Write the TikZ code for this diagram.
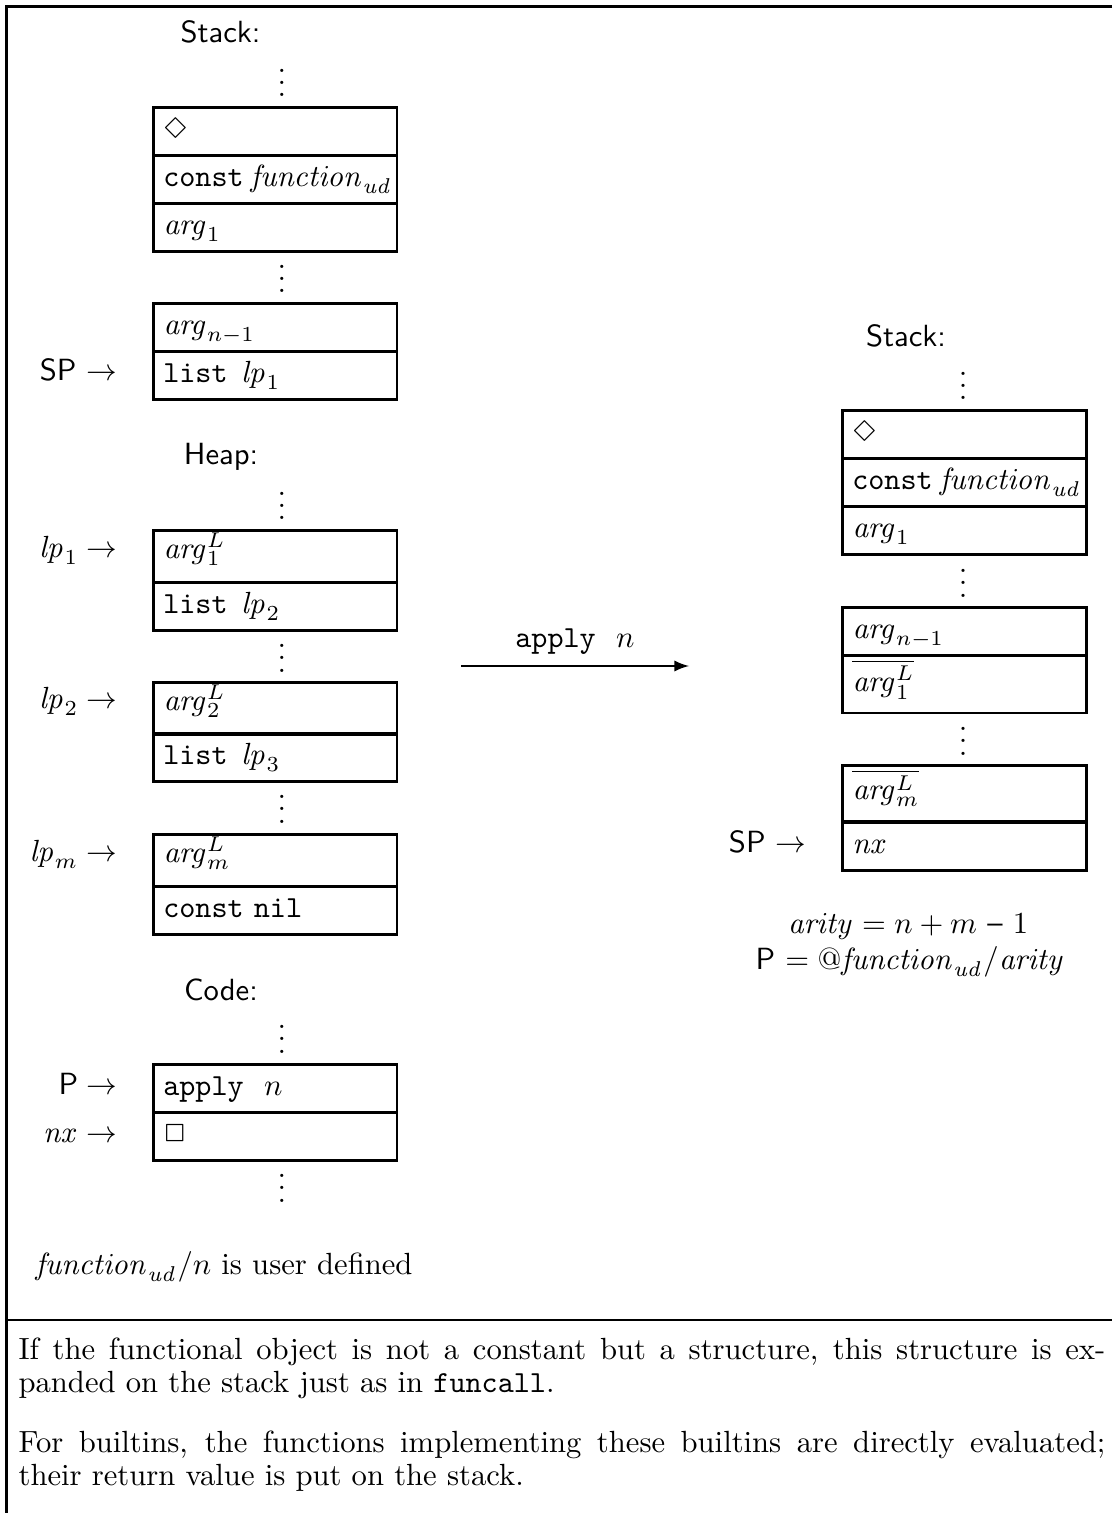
\documentclass[tikz,border=0pt]{standalone}
\usepackage{amsmath,latexsym}
\usepackage{tikz}
\usetikzlibrary{arrows}

\begin{document}
\begin{tikzpicture}[
    x=0.011472cm, y=-0.011472cm, >=latex,
    cell/.style={draw, line width=0.85pt, anchor=north west, text width=73.1pt, inner xsep=3.26pt, inner ysep=0pt, align=left, text height=10.1pt, text depth=5.55pt},
    supcell/.style={cell, text height=9.14pt, text depth=7.83pt},
    barcell/.style={cell, text height=11.7pt, text depth=7.2pt},
    head/.style={anchor=base, font=\sffamily},
    pointer/.style={anchor=base east, inner xsep=0pt},
    more/.style={anchor=base, inner sep=0pt},
    frame/.style={line width=0.8pt},
    note/.style={anchor=north west, inner sep=0pt, text width=354.8pt, align=justify, font=\fontsize{10}{10.8}\selectfont}
]
    \useasboundingbox (0,0) rectangle (1112,1513);

    \draw[frame] (1112,6.5) -- (6.5,6.5) -- (6.5,1513);
    \draw[line width=0.65pt] (6.5,1320) -- (1112,1320);

    \node[head] (stackL) at (220.5,43) {Stack:};
    \node[more] (dotsL1) at (282,97) {$\vdots$};
    \node[cell] (s1a) at (152,106) {$\Diamond$};
    \node[cell] (s1b) at (152,154) {\mbox{\texttt{const}\hspace{2.3pt}$\mathit{function}_{\mathit{ud}}$}};
    \node[cell] (s1c) at (152,202) {$\mathit{arg}_1$};
    \node[more] (dotsL2) at (282,293) {$\vdots$};
    \node[cell] (s1d) at (152,302) {$\mathit{arg}_{n-1}$};
    \node[cell] (s1e) at (152,350) {\texttt{list}\hspace{4.4pt}$\mathit{lp}_1$};
    \node[pointer] (spL) at (118,381) {\textsf{SP} $\rightarrow$};

    \node[head] (heap) at (221,465) {Heap:};
    \node[more] (dotsH1) at (282,520) {$\vdots$};
    \node[supcell] (h1a) at (152,529) {$\mathit{arg}^L_1$};
    \node[cell] (h1b) at (152,581) {\texttt{list}\hspace{4.4pt}$\mathit{lp}_2$};
    \node[more] (dotsH2) at (282,672) {$\vdots$};
    \node[supcell] (h2a) at (152,681) {$\mathit{arg}^L_2$};
    \node[cell] (h2b) at (152,732) {\texttt{list}\hspace{4.4pt}$\mathit{lp}_3$};
    \node[more] (dotsH3) at (282,823) {$\vdots$};
    \node[supcell] (h3a) at (152,833) {$\mathit{arg}^L_m$};
    \node[cell] (h3b) at (152,885) {\texttt{const nil}};
    \node[pointer] (lp1) at (118,557) {$\mathit{lp}_1 \rightarrow$};
    \node[pointer] (lp2) at (118,708) {$\mathit{lp}_2 \rightarrow$};
    \node[pointer] (lpm) at (118,861) {$\mathit{lp}_m \rightarrow$};

    \node[head] (code) at (221,1000) {Code:};
    \node[more] (dotsC1) at (282,1053) {$\vdots$};
    \node[cell] (c1) at (152,1063) {\texttt{apply}\ \ $n$};
    \node[cell] (c2) at (152,1111) {$\Box$};
    \node[more] (dotsC2) at (282,1202) {$\vdots$};
    \node[pointer] (pc) at (118,1094) {$\textsf{P} \rightarrow$};
    \node[pointer] (nx) at (118,1142) {$\mathit{nx} \rightarrow$};

    \node[anchor=base west, inner sep=0pt] (udef) at (35,1274) {$\mathit{function}_{\mathit{ud}}$\textsf{/}$n$ is user defined};

    \coordinate (from) at (461,666);
    \coordinate (to) at (689,666);
    \draw[->, line width=0.65pt] (from) -- node[anchor=base, yshift=6.2pt] (step) {\texttt{apply}\ \ $n$} (to);

    \node[head] (stackR) at (906,347) {Stack:};
    \node[more] (dotsR1) at (963,400) {$\vdots$};
    \node[cell] (r1) at (841,409) {$\Diamond$};
    \node[cell] (r2) at (841,457) {\mbox{\texttt{const}\hspace{2.3pt}$\mathit{function}_{\mathit{ud}}$}};
    \node[cell] (r3) at (841,505) {$\mathit{arg}_1$};
    \node[more] (dotsR2) at (963,597) {$\vdots$};
    \node[cell] (r4) at (841,606) {$\mathit{arg}_{n-1}$};
    \node[barcell] (r5) at (841,654) {$\overline{\mathit{arg}^L_1}$};
    \node[more] (dotsR3) at (963,755) {$\vdots$};
    \node[barcell, text height=11.1pt] (r6) at (841,764) {$\overline{\mathit{arg}^L_m}$};
    \node[cell] (r7) at (841,821) {$\mathit{nx}$};
    \node[pointer] (spR) at (807,852) {\textsf{SP} $\rightarrow$};

    \node[anchor=base] (arity) at (908,933) {$\mathit{arity} = n + m$ \textsf{--} $1$};
    \node[anchor=base] (pval) at (910,969) {\textsf{P} $= @\mathit{function}_{\mathit{ud}}$\textsf{/}$\mathit{arity}$};

    \node[note] (note1) at (18,1337) {If the functional object is not a constant but a structure, this structure is ex-\linebreak panded on the stack just as in \texttt{funcall}.};
    \node[note] (note2) at (18,1430) {For builtins, the functions implementing these builtins are directly evaluated;\linebreak their return value is put on the stack.};
\end{tikzpicture}
\end{document}
